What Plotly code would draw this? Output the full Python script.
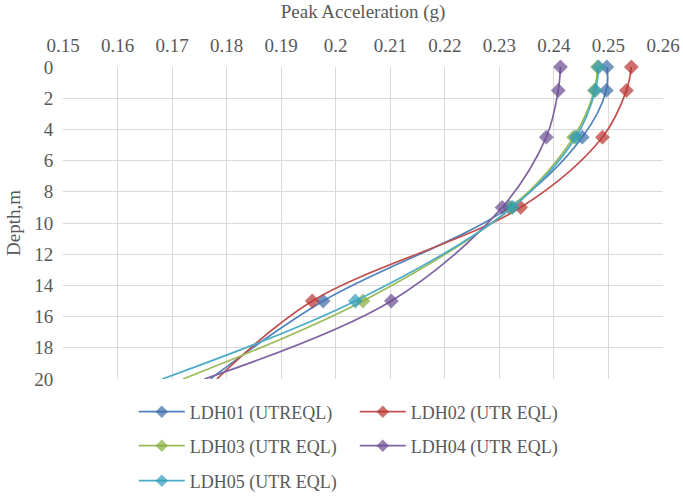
import plotly.graph_objects as go

depth = [0, 1.5, 4.5, 9, 15, 20]
ldh01 = [0.2497, 0.2496, 0.2452, 0.2318, 0.1977, 0.1770]
ldh02 = [0.2542, 0.2533, 0.2489, 0.2339, 0.1957, 0.1782]
ldh03 = [0.2480, 0.2474, 0.2436, 0.2322, 0.2050, 0.1720]
ldh04 = [0.2412, 0.2408, 0.2386, 0.2305, 0.2102, 0.1759]
ldh05 = [0.2482, 0.2476, 0.2440, 0.2324, 0.2036, 0.1682]

names = ["LDH01 (UTREQL)", "LDH02 (UTR EQL)", "LDH03 (UTR EQL)",
         "LDH04 (UTR EQL)", "LDH05 (UTR EQL)"]
series = [ldh01, ldh02, ldh03, ldh04, ldh05]
legend_ids = ["legend", "legend", "legend2", "legend2", "legend3"]
line_colors = ["#4F81BD", "#C0504D", "#9BBB59", "#8064A2", "#4BACC6"]
marker_colors = ["#3A6BA8", "#B8332F", "#86AC3C", "#6A4B92", "#2E9CBA"]

x_ticks = [0.15, 0.16, 0.17, 0.18, 0.19, 0.20, 0.21, 0.22, 0.23, 0.24, 0.25, 0.26]
x_labels = ["0.15", "0.16", "0.17", "0.18", "0.19", "0.2", "0.21", "0.22",
            "0.23", "0.24", "0.25", "0.26"]
y_ticks = [0, 2, 4, 6, 8, 10, 12, 14, 16, 18, 20]

font_family = "Liberation Serif, Times New Roman, DejaVu Serif, serif"
gray = "#595959"

fig = go.Figure()
for name, vals, lc, mc, lg in zip(names, series, line_colors, marker_colors, legend_ids):
    sizes = [11] * (len(depth) - 1) + [0]
    fig.add_trace(go.Scatter(
        x=vals, y=depth, name=name, mode="lines+markers", legend=lg,
        line=dict(color=lc, width=1.7, shape="spline", smoothing=1.0),
        marker=dict(symbol="diamond", size=sizes, color=mc,
                    line=dict(color=mc, width=0.5)),
        cliponaxis=False,
    ))

leg_common = dict(
    orientation="h", xanchor="left", yanchor="middle", yref="container",
    entrywidth=160, entrywidthmode="pixels", itemwidth=46,
    font=dict(size=18, color=gray, family=font_family),
    bgcolor="rgba(0,0,0,0)",
)

fig.update_layout(
    width=683, height=496,
    margin=dict(l=63, r=20, t=67, b=117, autoexpand=False),
    paper_bgcolor="white", plot_bgcolor="white",
    font=dict(family=font_family, color=gray, size=19),
    xaxis=dict(
        side="top", range=[0.15, 0.26], tickvals=x_ticks, ticktext=x_labels,
        showgrid=True, gridcolor="#D9D9D9", gridwidth=1, zeroline=False,
        showline=False, ticks="outside", ticklen=6, tickcolor="rgba(0,0,0,0)",
        tickfont=dict(size=19, color=gray),
        title=dict(text="Peak Acceleration (g)", font=dict(size=19, color=gray), standoff=11),
    ),
    yaxis=dict(
        range=[20, 0], tickvals=y_ticks, showgrid=True, gridcolor="#D9D9D9",
        gridwidth=1, zeroline=False, showline=False,
        ticks="outside", ticklen=5, tickcolor="rgba(0,0,0,0)",
        tickfont=dict(size=19, color=gray),
        title=dict(text="Depth,m", font=dict(size=19, color=gray), standoff=8),
    ),
    legend=dict(x=0.118, y=1 - 412 / 496, **leg_common),
    legend2=dict(x=0.118, y=1 - 446 / 496, **leg_common),
    legend3=dict(x=0.118, y=1 - 481 / 496, **leg_common),
)

fig.write_html("out.html")
